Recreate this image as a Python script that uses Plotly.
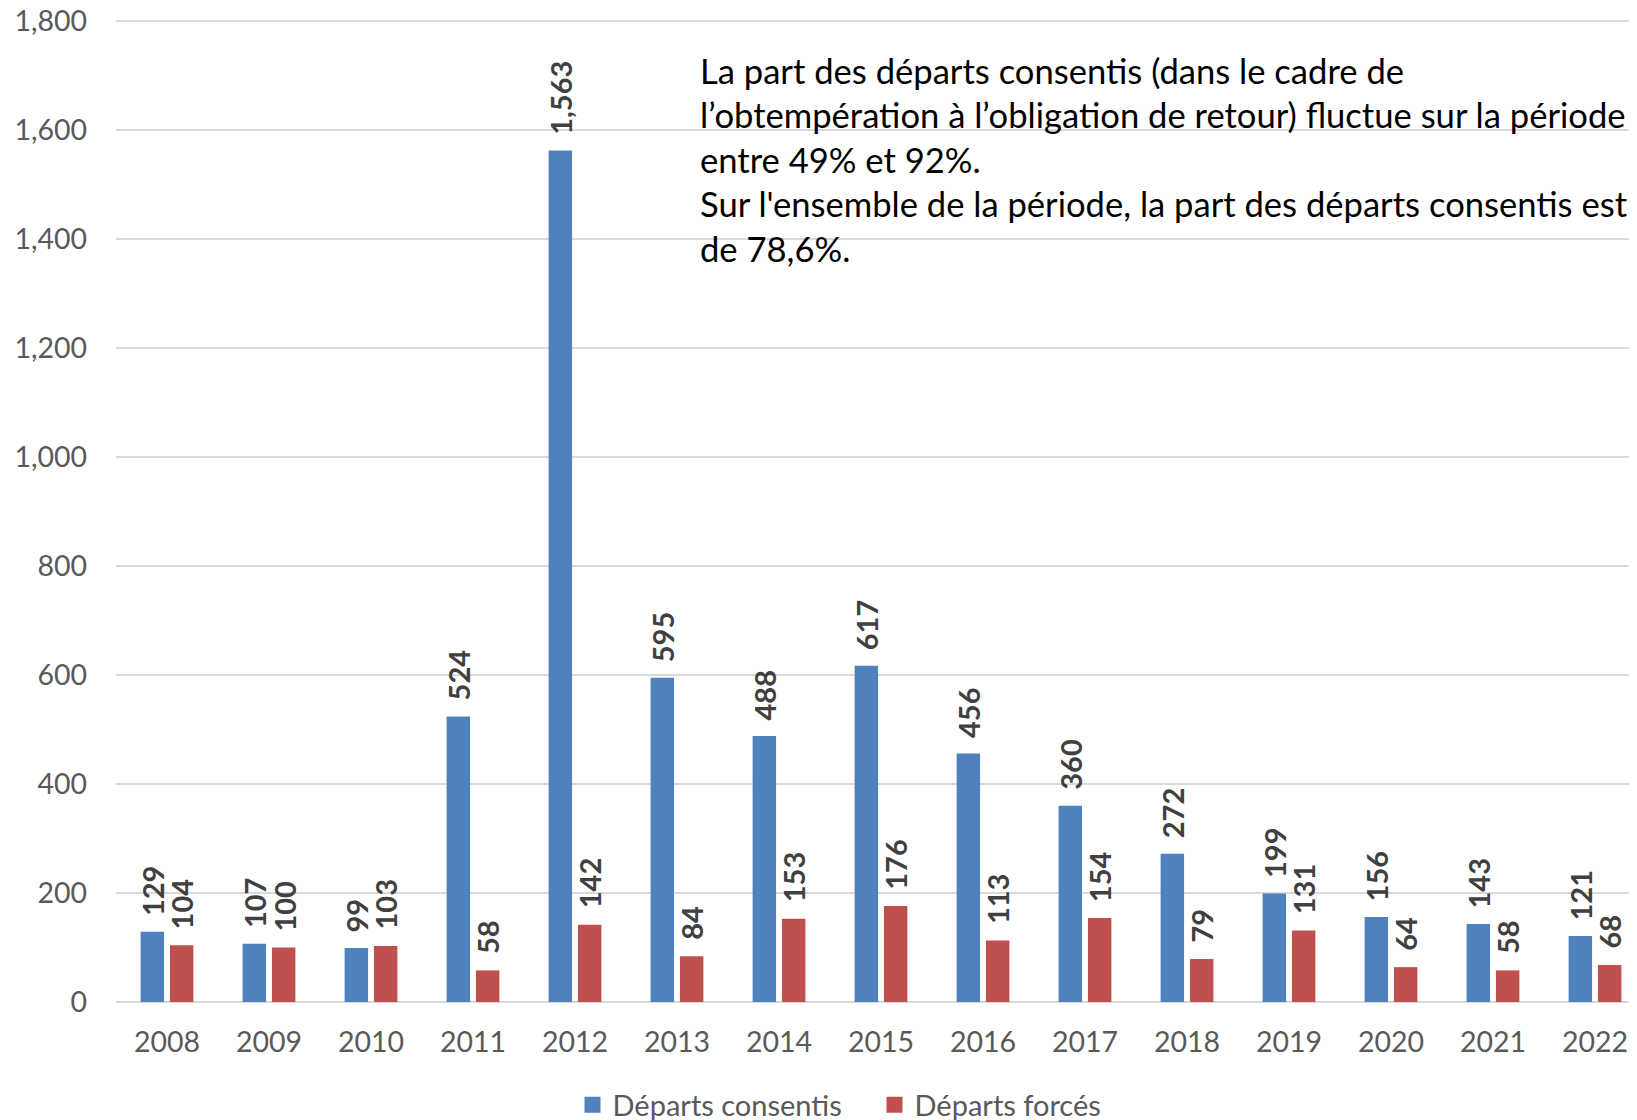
import plotly.graph_objects as go

years = ["2008", "2009", "2010", "2011", "2012", "2013", "2014", "2015",
         "2016", "2017", "2018", "2019", "2020", "2021", "2022"]
consentis = [129, 107, 99, 524, 1563, 595, 488, 617, 456, 360, 272, 199, 156, 143, 121]
forces = [104, 100, 103, 58, 142, 84, 153, 176, 113, 154, 79, 131, 64, 58, 68]

y_ticks = [0, 200, 400, 600, 800, 1000, 1200, 1400, 1600, 1800]

note_lines = [
    "La part des départs consentis (dans le cadre de",
    "l’obtempération à l’obligation de retour) fluctue sur la période",
    "entre 49% et 92%.",
    "Sur l'ensemble de la période, la part des départs consentis est",
    "de 78,6%.",
]

BLUE = "#4f81bd"
RED = "#c0504d"
FONT = "Lato"

# page offset (browser default body margin)
OFF = 8
W, H = 1637 - OFF, 1120 - OFF
Y_TOP = 1806
ML = 116 - OFF
MT = 18.3 - OFF
MB = H - (1002 - OFF)
MR = 0
plot_w = W - ML - MR
plot_h = H - MT - MB
cat_px = 102.0

idx = list(range(len(years)))

fig = go.Figure()
fig.add_trace(go.Bar(x=idx, y=consentis, name="Départs consentis", showlegend=False,
                     marker=dict(color=BLUE, line=dict(width=0))))
fig.add_trace(go.Bar(x=idx, y=forces, name="Départs forcés", showlegend=False,
                     marker=dict(color=RED, line=dict(width=0))))
# legend entries
fig.add_trace(go.Scatter(x=[None], y=[None], mode="markers", name="Départs consentis",
                         marker=dict(symbol="square", size=18, color=BLUE),
                         legend="legend", showlegend=True))
fig.add_trace(go.Scatter(x=[None], y=[None], mode="markers", name="Départs forcés",
                         marker=dict(symbol="square", size=18, color=RED),
                         legend="legend2", showlegend=True))

annotations = []
for series, shift in ((consentis, -14.6), (forces, 14.6)):
    for i, v in zip(idx, series):
        annotations.append(dict(
            x=i, y=v, xref="x", yref="y", text=f"<b>{v:,}</b>", showarrow=False,
            textangle=-90, xanchor="center", yanchor="bottom",
            xshift=shift, yshift=14,
            font=dict(family=FONT, size=29, color="#404040"),
        ))

line_px = [71, 115, 160, 204, 249]
for txt, py in zip(note_lines, line_px):
    annotations.append(dict(
        x=(698 - OFF - ML) / plot_w, y=(MT + plot_h - (py - OFF)) / plot_h,
        xref="paper", yref="paper", text=txt, showarrow=False,
        xanchor="left", yanchor="middle",
        font=dict(family=FONT, size=34.6, color="#000000"),
    ))

leg_common = dict(orientation="h", xref="container", yref="container",
                  xanchor="left", yanchor="middle",
                  y=1 - (1105 - OFF) / H,
                  font=dict(family=FONT, size=29, color="#595959"),
                  itemwidth=30, bgcolor="rgba(0,0,0,0)")

fig.update_layout(
    width=W, height=H,
    margin=dict(l=ML, r=MR, t=MT, b=MB, pad=0, autoexpand=False),
    paper_bgcolor="white", plot_bgcolor="white",
    barmode="group", bargap=0.425, bargroupgap=0.2,
    font=dict(family=FONT, color="#595959"),
    showlegend=True,
    legend=dict(x=(612.5 - 40 - OFF) / W, **leg_common),
    legend2=dict(x=(914.5 - 40 - OFF) / W, **leg_common),
    annotations=annotations,
)
fig.update_xaxes(
    range=[-0.5, -0.5 + plot_w / cat_px],
    tickvals=idx, ticktext=years,
    showgrid=False, showline=False, ticks="", zeroline=False,
    tickfont=dict(family=FONT, size=28.5, color="#595959"),
    ticklabelstandoff=20,
)
fig.update_yaxes(
    range=[0, Y_TOP], tickvals=y_ticks, tickformat=",d",
    showgrid=True, gridcolor="#d9d9d9", gridwidth=1.5,
    zeroline=True, zerolinecolor="#d9d9d9", zerolinewidth=1.5,
    showline=False, ticks="", ticklabeloverflow="allow",
    tickfont=dict(family=FONT, size=28.5, color="#595959"),
    ticklabelstandoff=28,
)

fig.write_html("out.html")
